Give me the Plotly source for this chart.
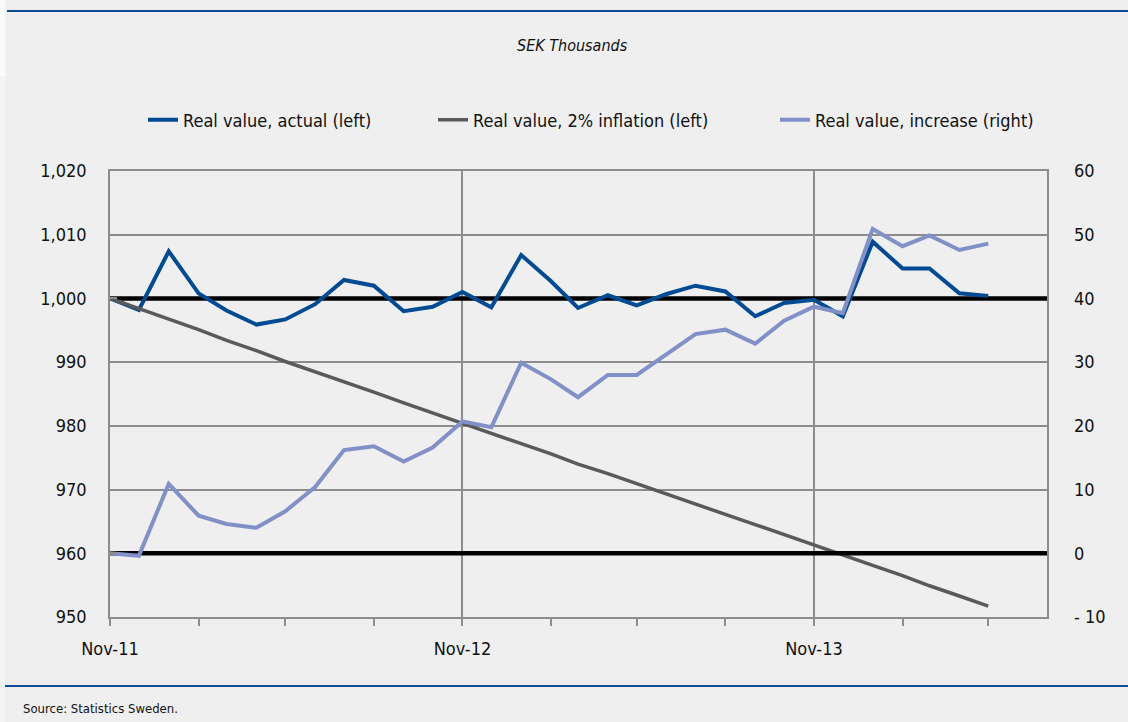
import plotly.graph_objects as go

months = ["2011-11-01", "2011-12-01", "2012-01-01", "2012-02-01", "2012-03-01", "2012-04-01",
          "2012-05-01", "2012-06-01", "2012-07-01", "2012-08-01", "2012-09-01", "2012-10-01",
          "2012-11-01", "2012-12-01", "2013-01-01", "2013-02-01", "2013-03-01", "2013-04-01",
          "2013-05-01", "2013-06-01", "2013-07-01", "2013-08-01", "2013-09-01", "2013-10-01",
          "2013-11-01", "2013-12-01", "2014-01-01", "2014-02-01", "2014-03-01", "2014-04-01",
          "2014-05-01"]

real_actual = [1000.0, 998.2, 1007.4, 1000.8, 998.1, 995.9, 996.7, 999.1, 1002.9, 1002.0,
               998.0, 998.7, 1001.0, 998.6, 1006.8, 1002.7, 998.5, 1000.5, 998.9, 1000.7,
               1002.0, 1001.1, 997.2, 999.3, 999.8, 997.2, 1008.9, 1004.7, 1004.7, 1000.8,
               1000.4]

real_inflation = [1000.0, 998.4, 996.7, 995.1, 993.4, 991.8, 990.1, 988.5, 986.9, 985.3,
                  983.6, 982.0, 980.4, 978.8, 977.2, 975.6, 974.0, 972.5, 970.9, 969.3,
                  967.7, 966.1, 964.5, 962.9, 961.3, 959.7, 958.1, 956.5, 954.9, 953.3,
                  951.7]

real_increase = [0.0, -0.4, 10.9, 5.9, 4.6, 4.0, 6.6, 10.4, 16.2, 16.8,
                 14.4, 16.6, 20.7, 19.8, 29.9, 27.3, 24.5, 28.0, 28.0, 31.3,
                 34.4, 35.1, 32.9, 36.5, 38.7, 37.7, 50.9, 48.2, 49.9, 47.6,
                 48.6]

series_names = ["Real value, actual (left)", "Real value, 2% inflation (left)",
                "Real value, increase (right)"]

x_range = ["2011-11-01", "2014-07-01"]
left_ref_level = 1000
right_ref_level = 0

left_ticks = [950, 960, 970, 980, 990, 1000, 1010, 1020]
right_ticks = [-10, 0, 10, 20, 30, 40, 50, 60]
right_ticktext = ["- 10", "0", "10", "20", "30", "40", "50", "60"]

FONT = "DejaVu Sans Condensed, DejaVu Sans, sans-serif"
BG = "#efefef"
GRID = "#8c8c8c"
TXT = "#111111"

fig = go.Figure()
# thick black reference lines (drawn first, under the series, over the grid)
fig.add_trace(go.Scatter(x=x_range, y=[left_ref_level, left_ref_level], mode="lines",
                         line=dict(color="black", width=4.5), yaxis="y", showlegend=False,
                         hoverinfo="skip"))
fig.add_trace(go.Scatter(x=x_range, y=[right_ref_level, right_ref_level], mode="lines",
                         line=dict(color="black", width=4.5), yaxis="y2", showlegend=False,
                         hoverinfo="skip"))

fig.add_trace(go.Scatter(x=months, y=real_actual, name=series_names[0], mode="lines",
                         line=dict(color="#004b93", width=4), yaxis="y", legend="legend"))
fig.add_trace(go.Scatter(x=months, y=real_inflation, name=series_names[1], mode="lines",
                         line=dict(color="#5a5a5a", width=3.5), yaxis="y", legend="legend2"))
fig.add_trace(go.Scatter(x=months, y=real_increase, name=series_names[2], mode="lines",
                         line=dict(color="#8290c8", width=4), yaxis="y2", legend="legend3"))

# plot area in pixels: x 110..1047, y 171..617
def px(xp):
    return (xp - 110) / 937.0

def py(yp):
    return (617 - yp) / 446.0

# faint lighter strip at the very left edge
fig.add_shape(type="rect", xref="paper", yref="paper", x0=px(0), x1=px(5.5), y0=py(0), y1=py(76),
              fillcolor="#fbfbfb", line=dict(width=0), layer="below")
fig.add_shape(type="rect", xref="paper", yref="paper", x0=px(0), x1=px(5.5), y0=py(76), y1=py(722),
              fillcolor="#f4f4f4", line=dict(width=0), layer="below")

fig.add_shape(type="line", xref="paper", yref="paper", x0=px(7), x1=px(1130), y0=py(11), y1=py(11),
              line=dict(color="#0b4a96", width=2))
fig.add_shape(type="line", xref="paper", yref="paper", x0=px(5), x1=px(1130), y0=py(686), y1=py(686),
              line=dict(color="#0b4a96", width=2))

fig.add_annotation(text="<i>SEK Thousands</i>", xref="paper", yref="paper", x=px(572), y=py(45),
                   xanchor="center", yanchor="middle", showarrow=False,
                   font=dict(family=FONT, size=16, color=TXT))
fig.add_annotation(text="Source: Statistics Sweden.", xref="paper", yref="paper", x=px(21),
                   y=py(708), xanchor="left", yanchor="middle", showarrow=False,
                   font=dict(family=FONT, size=13, color=TXT))

leg_common = dict(orientation="h", yanchor="middle", xanchor="left", bgcolor="rgba(0,0,0,0)",
                  font=dict(family=FONT, size=18, color=TXT), itemwidth=30)

fig.update_layout(
    width=1128, height=722,
    margin=dict(l=110, r=81, t=171, b=105),
    paper_bgcolor=BG, plot_bgcolor=BG,
    font=dict(family=FONT, size=18, color=TXT),
    showlegend=True,
    legend=dict(x=px(183 - 40), y=py(120), **leg_common),
    legend2=dict(x=px(473 - 40), y=py(120), **leg_common),
    legend3=dict(x=px(815 - 40), y=py(120), **leg_common),
    xaxis=dict(type="date", range=x_range, tick0="2011-11-01", dtick="M12",
               tickformat="%b-%y", ticks="outside", ticklen=7, tickcolor=GRID, tickwidth=1.5,
               showgrid=True, gridcolor=GRID, gridwidth=1.5,
               showline=True, linecolor=GRID, linewidth=1.5, mirror=True,
               minor=dict(dtick="M3", tick0="2011-11-01", ticks="outside", ticklen=7,
                          tickcolor=GRID, tickwidth=1.5, showgrid=False),
               ticklabelstandoff=8, zeroline=False),
    yaxis=dict(range=[950, 1020], tickvals=left_ticks, tickformat=",d", showgrid=True,
               gridcolor=GRID, gridwidth=1.5, showline=True, linecolor=GRID, linewidth=1.5,
               mirror=True, ticks="inside", ticklen=7, tickcolor=GRID, tickwidth=1.5,
               ticklabelstandoff=18, zeroline=False),
    yaxis2=dict(range=[-10, 60], tickvals=right_ticks, ticktext=right_ticktext, overlaying="y",
                side="right", showgrid=False, showline=False, ticks="", zeroline=False,
                ticklabelstandoff=26),
)

fig.write_html("out.html", config={"displayModeBar": False},
               post_script="document.body.style.margin='0';")
